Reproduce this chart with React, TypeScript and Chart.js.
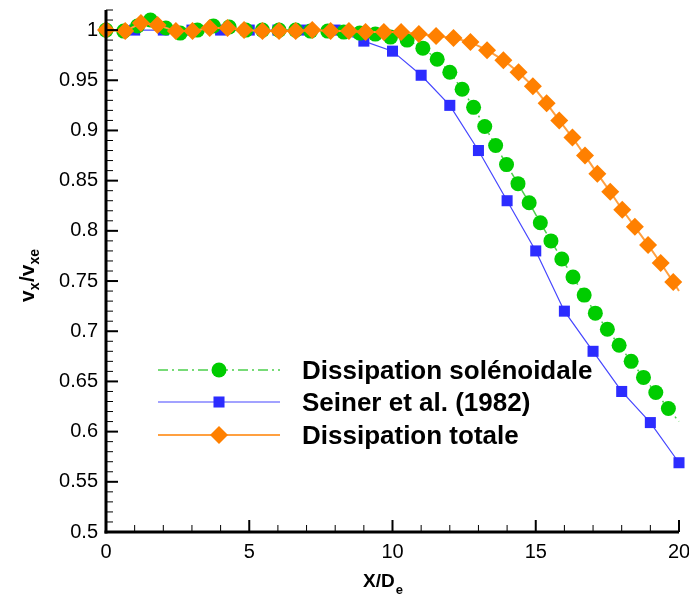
import React, { useEffect, useRef } from "react";
import { Chart, registerables } from "chart.js";
import { drawPoint } from "chart.js/helpers";

Chart.register(...registerables);

// ---- Data ----
const solenoidalX = [0, 0.62, 1.1, 1.55, 2.09, 2.59, 3.19, 3.75, 4.3, 4.88, 5.46, 6.04, 6.62, 7.14, 7.74, 8.3, 8.86, 9.4, 9.93, 10.51, 11.06, 11.56, 12.0, 12.43, 12.83, 13.22, 13.6, 13.98, 14.38, 14.77, 15.16, 15.53, 15.91, 16.3, 16.69, 17.08, 17.5, 17.91, 18.33, 18.76, 19.19, 19.63, 20.0];
const solenoidalY = [1.0, 0.999, 1.004, 1.01, 1.002, 0.997, 1.0, 1.004, 1.003, 1.0, 1.0, 1.0, 1.0, 0.999, 0.999, 0.998, 0.997, 0.996, 0.993, 0.99, 0.982, 0.971, 0.958, 0.941, 0.923, 0.904, 0.885, 0.866, 0.847, 0.828, 0.808, 0.79, 0.772, 0.754, 0.736, 0.718, 0.702, 0.686, 0.67, 0.654, 0.639, 0.623, 0.61];

const seinerX = [1, 2, 3, 4, 5, 6, 7, 8, 9, 10, 11, 12, 13, 14, 15, 16, 17, 18, 19, 20];
const seinerY = [1.0, 1.0, 1.0, 1.0, 1.0, 1.0, 1.0, 1.0, 0.989, 0.979, 0.955, 0.925, 0.88, 0.83, 0.78, 0.72, 0.68, 0.64, 0.609, 0.569];

const totaleX = [0, 0.67, 1.22, 1.8, 2.44, 3.02, 3.62, 4.24, 4.82, 5.46, 6.04, 6.62, 7.2, 7.84, 8.48, 9.06, 9.7, 10.3, 10.92, 11.52, 12.13, 12.72, 13.3, 13.87, 14.4, 14.9, 15.38, 15.82, 16.28, 16.72, 17.15, 17.6, 18.02, 18.46, 18.92, 19.36, 19.8, 20.0];
const totaleY = [1.0, 0.999, 1.007, 1.005, 0.999, 0.999, 1.002, 1.002, 1.0, 0.999, 0.999, 0.999, 1.0, 0.999, 0.999, 0.998, 0.998, 0.998, 0.996, 0.994, 0.992, 0.988, 0.98, 0.97, 0.958, 0.944, 0.927, 0.91, 0.893, 0.875, 0.857, 0.839, 0.821, 0.804, 0.786, 0.768, 0.749, 0.74];

const legendLabels = ["Dissipation solénoidale", "Seiner et al. (1982)", "Dissipation totale"];

const xTickValues = [0, 5, 10, 15, 20];
const xTickLabels = ["0", "5", "10", "15", "20"];
const yTickValues = [0.5, 0.55, 0.6, 0.65, 0.7, 0.75, 0.8, 0.85, 0.9, 0.95, 1.0];
const yTickLabels = ["0.5", "0.55", "0.6", "0.65", "0.7", "0.75", "0.8", "0.85", "0.9", "0.95", "1"];

const X_MIN = 0, X_MAX = 20, Y_MIN = 0.5, Y_MAX = 1.02;

const FONT = "'Liberation Sans', Arial, Helvetica, sans-serif";

const toPts = (xs: number[], ys: number[]) => xs.map((x, i) => ({ x, y: ys[i] }));

const hideLast = (n: number, r: number) => (ctx: any) => (ctx.dataIndex === n - 1 ? 0 : r);

const tecplotPlugin = {
  id: "tecplotDecor",
  afterDatasetsDraw(chart: any) {
    const { ctx } = chart;
    const x = chart.scales.x;
    const y = chart.scales.y;
    const left = x.getPixelForValue(X_MIN);
    const right = x.getPixelForValue(X_MAX);
    const bottom = y.getPixelForValue(Y_MIN);
    const top = y.getPixelForValue(Y_MAX);
    ctx.save();
    ctx.strokeStyle = "#000";
    // x ticks (inward)
    for (let i = 0; i <= 20; i++) {
      const v = X_MIN + i;
      const major = i % 5 === 0;
      const px = x.getPixelForValue(v);
      ctx.lineWidth = major ? 2 : 1;
      ctx.beginPath();
      ctx.moveTo(px, bottom);
      ctx.lineTo(px, bottom - (major ? 12 : 7));
      ctx.stroke();
    }
    // y ticks (inward)
    for (let i = 0; i <= 52; i++) {
      const v = Y_MIN + i * 0.01;
      const major = i % 5 === 0 && i <= 50;
      const py = y.getPixelForValue(v);
      ctx.lineWidth = major ? 2 : 1;
      ctx.beginPath();
      ctx.moveTo(left, py);
      ctx.lineTo(left + (major ? 12 : 7), py);
      ctx.stroke();
    }
    // axis lines
    ctx.lineWidth = 3;
    ctx.lineCap = "butt";
    ctx.beginPath();
    ctx.moveTo(left, top);
    ctx.lineTo(left, bottom + 1.5);
    ctx.stroke();
    ctx.beginPath();
    ctx.moveTo(left - 1.5, bottom);
    ctx.lineTo(right, bottom);
    ctx.stroke();
    ctx.restore();
  },
  afterDraw(chart: any) {
    const { ctx } = chart;
    ctx.save();
    ctx.fillStyle = "#000";
    ctx.textBaseline = "alphabetic";
    ctx.textAlign = "left";

    // X axis title: X/D_e
    ctx.font = `bold 19px ${FONT}`;
    let tx = 363;
    ctx.fillText("X/D", tx, 587);
    tx += ctx.measureText("X/D").width;
    ctx.font = `bold 13px ${FONT}`;
    ctx.fillText("e", tx + 1, 594);

    // Y axis title: v_x/v_xe (rotated)
    ctx.save();
    ctx.translate(34, 302);
    ctx.rotate(-Math.PI / 2);
    let u = 0;
    const parts: [string, boolean][] = [["v", false], ["x", true], ["/", false], ["v", false], ["xe", true]];
    for (const [s, sub] of parts) {
      ctx.font = sub ? `bold 14px ${FONT}` : `bold 21px ${FONT}`;
      ctx.fillText(s, u, sub ? 5 : 0);
      u += ctx.measureText(s).width + (sub ? 0.5 : 0);
    }
    ctx.restore();

    // Legend
    const rows = [370, 402, 435];
    const datasets = chart.data.datasets;
    const order = [0, 1, 2];
    order.forEach((di, k) => {
      const ds = datasets[di];
      const yy = rows[k];
      ctx.save();
      ctx.strokeStyle = ds.borderColor;
      ctx.lineWidth = ds.borderWidth;
      ctx.setLineDash(ds.borderDash || []);
      ctx.beginPath();
      ctx.moveTo(158, yy);
      ctx.lineTo(280, yy);
      ctx.stroke();
      ctx.setLineDash([]);
      ctx.fillStyle = ds.pointBackgroundColor;
      ctx.strokeStyle = ds.pointBorderColor;
      drawPoint(ctx, { pointStyle: ds.pointStyle, radius: ds.legendRadius, rotation: 0, borderWidth: 0 }, 219, yy);
      ctx.restore();
      ctx.font = `bold 26px ${FONT}`;
      ctx.fillStyle = "#000";
      ctx.fillText(legendLabels[k], 302, yy + 9);
    });
    ctx.restore();
  },
};

export default function App() {
  const canvasRef = useRef<HTMLCanvasElement | null>(null);

  useEffect(() => {
    const canvas = canvasRef.current;
    if (!canvas) return;
    const chart = new Chart(canvas, {
      type: "line",
      data: {
        datasets: [
          {
            label: legendLabels[0],
            data: toPts(solenoidalX, solenoidalY),
            borderColor: "#4ccf4c",
            borderWidth: 1.5,
            borderDash: [10, 4, 2, 4],
            pointStyle: "circle",
            pointRadius: hideLast(solenoidalX.length, 7.5),
            legendRadius: 7.5,
            pointBackgroundColor: "#00cc00",
            pointBorderColor: "#00cc00",
            pointBorderWidth: 0,
            clip: false,
            order: 1,
          } as any,
          {
            label: legendLabels[1],
            data: toPts(seinerX, seinerY),
            borderColor: "#4646ff",
            borderWidth: 1.2,
            pointStyle: "rect",
            pointRadius: 7.8,
            legendRadius: 7.8,
            pointBackgroundColor: "#2c2cff",
            pointBorderColor: "#2c2cff",
            pointBorderWidth: 0,
            clip: false,
            order: 2,
          } as any,
          {
            label: legendLabels[2],
            data: toPts(totaleX, totaleY),
            borderColor: "#ffa040",
            borderWidth: 2,
            pointStyle: "rectRot",
            pointRadius: hideLast(totaleX.length, 9),
            legendRadius: 9,
            pointBackgroundColor: "#ff8000",
            pointBorderColor: "#ff8000",
            pointBorderWidth: 0,
            clip: false,
            order: 0,
          } as any,
        ],
      },
      options: {
        responsive: false,
        animation: false,
        events: [],
        layout: { padding: { top: 10, right: 10, left: 0, bottom: 0 } },
        plugins: { legend: { display: false }, tooltip: { enabled: false }, title: { display: false } },
        elements: { line: { tension: 0 } },
        scales: {
          x: {
            type: "linear",
            min: X_MIN,
            max: X_MAX,
            grid: { display: false, drawTicks: false },
            border: { display: false },
            ticks: {
              color: "#000",
              font: { family: FONT, size: 20 },
              padding: 8,
              maxRotation: 0,
              callback: (v: any) => {
                const i = xTickValues.indexOf(Number(v));
                return i >= 0 ? xTickLabels[i] : "";
              },
            },
            afterBuildTicks: (scale: any) => {
              scale.ticks = xTickValues.map((value) => ({ value }));
            },
            afterFit: (scale: any) => {
              scale.height = 65;
              scale.paddingLeft = 0;
              scale.paddingRight = 0;
            },
          },
          y: {
            type: "linear",
            min: Y_MIN,
            max: Y_MAX,
            grid: { display: false, drawTicks: false },
            border: { display: false },
            ticks: {
              color: "#000",
              font: { family: FONT, size: 20 },
              padding: 8,
              callback: (v: any) => {
                const i = yTickValues.findIndex((t) => Math.abs(t - Number(v)) < 1e-9);
                return i >= 0 ? yTickLabels[i] : "";
              },
            },
            afterBuildTicks: (scale: any) => {
              scale.ticks = yTickValues.map((value) => ({ value }));
            },
            afterFit: (scale: any) => {
              scale.width = 106;
              scale.paddingTop = 0;
              scale.paddingBottom = 0;
            },
          },
        },
      } as any,
      plugins: [tecplotPlugin],
    });
    return () => chart.destroy();
  }, []);

  return (
    <div style={{ position: "fixed", left: 0, top: 0, width: 689, height: 597, background: "#fff" }}>
      <canvas ref={canvasRef} width={689} height={597} />
    </div>
  );
}
